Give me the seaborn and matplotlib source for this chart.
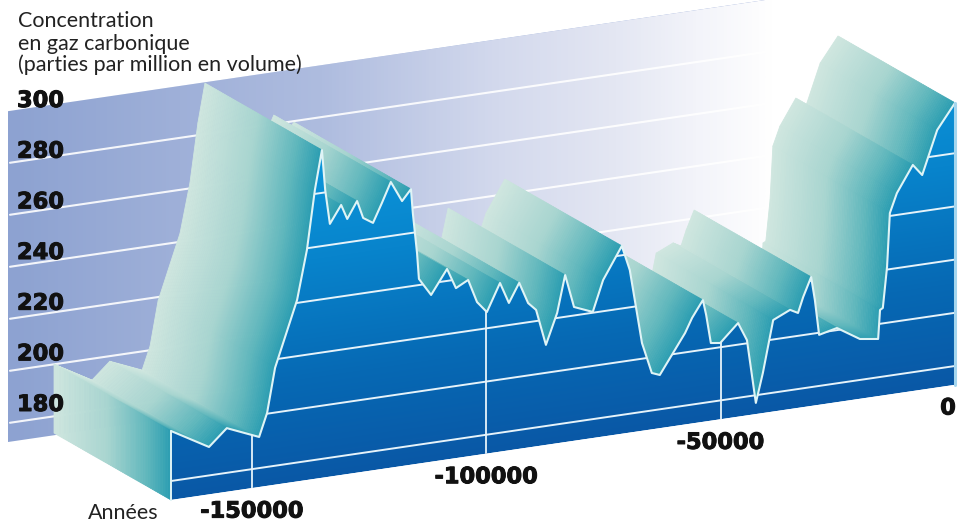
import numpy as np
import seaborn as sns
import matplotlib
matplotlib.use("Agg")
import matplotlib.pyplot as plt
import matplotlib.patheffects as pe
from matplotlib.collections import PolyCollection
from matplotlib.colors import LinearSegmentedColormap
from matplotlib.patches import Polygon
from matplotlib.transforms import Affine2D

# Ice-core CO2 record: years relative to today, concentration in ppmv
years = [-167300, -159200, -155400, -148500, -146800, -145100, -140400, -138300, -136600,
         -135100, -134400, -133400, -131000, -129700, -127600, -126300, -124200, -122300,
         -120400, -118000, -116100, -115700, -114800, -114400, -111800, -108400, -106500,
         -103900, -102000, -99900, -97100, -95200, -93000, -91100, -89400, -87300, -84900,
         -83200, -81300, -77300, -75100, -71100, -69400, -66800, -64700, -63000, -57600,
         -56100, -53800, -53100, -52100, -50100, -46300, -44400, -42500, -41000, -38800,
         -35200, -33500, -32400, -30700, -29900, -29000, -25200, -20300, -16400, -16000,
         -15400, -14500, -13900, -12400, -9000, -7000, -3800, 0]
co2 = [198.8, 190.7, 196.8, 191.7, 200.3, 216.8, 241.1, 259.4, 281.5,
       296.1, 280.9, 267.9, 274.4, 268.8, 275.0, 268.3, 265.9, 272.9,
       280.3, 272.5, 276.5, 267.4, 252.1, 242.3, 235.6, 244.5, 236.8,
       239.2, 230.4, 226.1, 236.3, 228.3, 235.3, 227.2, 224.2, 210.5, 221.9,
       235.7, 223.2, 220.3, 231.7, 243.5, 234.0, 205.9, 194.1, 192.9, 207.3,
       212.6, 218.7, 212.9, 202.1, 201.6, 208.1, 201.2, 177.1, 188.0, 207.3,
       210.2, 208.6, 214.3, 221.4, 212.5, 199.2, 200.8, 195.4, 194.4, 205.2,
       205.8, 221.0, 241.1, 248.2, 257.9, 253.6, 269.7, 278.9]
ppm_ticks = [180, 200, 220, 240, 260, 280, 300]
year_ticks = [-150000, -100000, -50000, 0]
y_title = ["Concentration", "en gaz carbonique", "(parties par million en volume)"]
x_title = "Années"

# Extrusion of the profile towards the back wall, in data units
DEPTH_YEARS = -24968
DEPTH_PPM = 31.6
BASE_PPM = 172.9
TOP_PPM = 300

sns.set_theme(style="white")
fig = plt.figure(figsize=(9.59, 5.23), dpi=100)
ax = fig.add_axes([0, 0, 1, 1])


def oblique(x0, y0, px_per_ppm):
    """Map (year, ppm) to canvas pixels on a slanted plane; (0, 180) lands on (x0, y0)."""
    sx, slope = 0.004686, 0.1467
    return Affine2D.from_values(sx, -slope * sx, 0, -px_per_ppm, x0, y0 + 180 * px_per_ppm) + ax.transData


front = oblique(955, 366, 2.66)
wall = oblique(838, 301.3, 2.6)

wall_cmap = LinearSegmentedColormap.from_list(
    "wall", [(0, "#8da2d1"), (0.35, "#aebcdf"), (0.55, "#d3d9ed"), (0.686, "#e4e7f3"),
             (0.776, "#f3f4fa"), (0.86, "#ffffff"), (1, "#ffffff")])
front_cmap = LinearSegmentedColormap.from_list(
    "front", [(0, "#0a58a6"), (0.3, "#0669b4"), (0.65, "#0884cc"), (1, "#0c9ade")])
ribbon_cmap = LinearSegmentedColormap.from_list(
    "ribbon", [(0, "#2a9db1"), (0.22, "#62b8bd"), (0.55, "#a8d5d0"), (1, "#cfe6df")])

# Back wall with its horizontal fade
wall_img = ax.imshow(np.linspace(0, 1, 256)[None, :], extent=(-177100, 13000, BASE_PPM, TOP_PPM),
                     cmap=wall_cmap, aspect="auto", interpolation="bilinear", zorder=1)
wall_img.set_transform(wall)
for v in ppm_ticks[:-1]:
    ax.plot([-176700, 13000], [v, v], color="white", lw=1.5, transform=wall, zorder=2, alpha=0.9)

# Shaded faces of the extruded profile, right to left so nearer faces cover farther ones
fade = np.linspace(0, 1, 71)
mid = (fade[:-1] + fade[1:]) / 2
polys, colors = [], []


def add_face(ya, pa, yb, pb):
    for t0, t1, tm in zip(fade[:-1], fade[1:], mid):
        polys.append([(ya + t0 * DEPTH_YEARS, pa + t0 * DEPTH_PPM),
                      (yb + t0 * DEPTH_YEARS, pb + t0 * DEPTH_PPM),
                      (yb + t1 * DEPTH_YEARS, pb + t1 * DEPTH_PPM),
                      (ya + t1 * DEPTH_YEARS, pa + t1 * DEPTH_PPM)])
        colors.append(ribbon_cmap(tm))


for i in range(len(years) - 2, -1, -1):
    dy, dp = years[i + 1] - years[i], co2[i + 1] - co2[i]
    if dy * DEPTH_PPM - dp * DEPTH_YEARS > 0:
        add_face(years[i], co2[i], years[i + 1], co2[i + 1])
add_face(years[0], BASE_PPM, years[0], co2[0])
ax.add_collection(PolyCollection(polys, facecolors=colors, edgecolors=colors, linewidths=0.6,
                                 transform=front, zorder=3), autolim=False)

# Front face under the curve
outline = [(years[0], BASE_PPM)] + list(zip(years, co2)) + [(years[-1], BASE_PPM)]
clip = Polygon(outline, closed=True, transform=front, facecolor="none", edgecolor="none")
ax.add_patch(clip)
front_img = ax.imshow(np.linspace(0, 1, 256)[:, None], extent=(years[0], 0, BASE_PPM, TOP_PPM), origin="lower",
                      cmap=front_cmap, aspect="auto", interpolation="bilinear", zorder=4)
front_img.set_transform(front)
front_img.set_clip_path(clip)

for v in ppm_ticks[:-1]:
    line, = ax.plot([years[0], 0], [v, v], color="#e6f3fa", lw=1.4, transform=front, zorder=5)
    line.set_clip_path(clip)
for y in year_ticks[:-1]:
    line, = ax.plot([y, y], [BASE_PPM, TOP_PPM], color="#e6f3fa", lw=1.3, transform=front, zorder=5)
    line.set_clip_path(clip)

sns.lineplot(x=years, y=co2, ax=ax, color="#dff4f6", lw=1.5, sort=False, estimator=None, errorbar=None,
             transform=front, zorder=6)
ax.plot([years[0], years[0]], [BASE_PPM, co2[0]], color="#dff4f6", lw=1.4, transform=front, zorder=6)
ax.plot([0, 0], [BASE_PPM, co2[-1]], color="#a5d6ee", lw=2.2, transform=front, zorder=6)

# Tick labels and titles
bold = dict(family="DejaVu Sans", weight="bold", color="#111111", fontsize=16.2, zorder=8,
            path_effects=[pe.withStroke(linewidth=0.7, foreground="#111111")])
label_y = Affine2D().scale(1, -2.533).translate(0, 405 + 2.533 * 180) + ax.transData
for v in ppm_ticks:
    ax.text(17, v, str(v), transform=label_y, ha="left", va="center", **bold)
for y in year_ticks:
    shift = -5 if y == 0 else 0
    ax.annotate(str(y), xy=(y, BASE_PPM), xycoords=front, xytext=(shift, -17), textcoords="offset points",
                ha="center", va="center", annotation_clip=False, **bold)
for row, line_text in zip([21, 44, 65], y_title):
    ax.text(18, row, line_text, family="Lato", fontsize=15.5, color="#222222", ha="left", va="center", zorder=8)
ax.text(123, 513, x_title, family="Lato", fontsize=15.5, color="#222222", ha="center", va="center", zorder=8)

ax.set_xlim(0, 959)
ax.set_ylim(523, 0)
ax.axis("off")
fig.savefig("out.png", dpi=100, facecolor="white")
